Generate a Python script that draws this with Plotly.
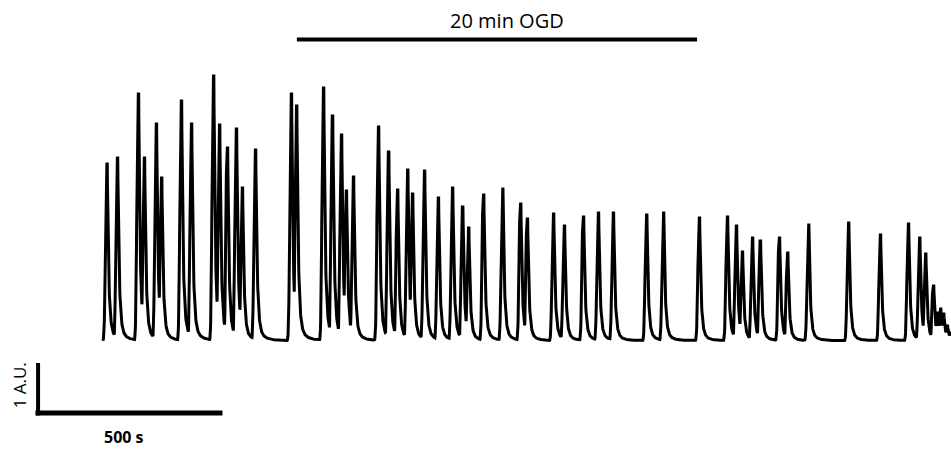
import numpy as np
import plotly.graph_objects as go

# Event times (s) and peak amplitudes (A.U., above baseline) of the calcium transients
spike_times = [
    4, 32, 88, 104, 136, 150, 203, 230, 289, 305, 326, 350, 366, 401,
    497, 511, 583, 607, 631, 644, 663, 730, 757, 781, 808, 821, 853, 890,
    928, 955, 971, 1011, 1062, 1110, 1128, 1198, 1227, 1278, 1318, 1358,
    1447, 1492, 1588, 1663, 1687, 1703, 1730, 1751, 1802, 1824, 1880,
    1987, 2072, 2147, 2177, 2193, 2214, 2225, 2233, 2241, 2251, 2260,
]
spike_peaks = [
    3.54, 3.66, 4.94, 3.66, 4.34, 3.26, 4.80, 4.34, 5.30, 4.32, 3.86, 4.24, 3.06, 3.82,
    4.94, 4.70, 5.06, 4.50, 4.12, 3.00, 3.28, 4.28, 3.78, 3.02, 3.42, 2.94, 3.40, 2.86,
    3.06, 2.68, 2.26, 2.92, 3.04, 2.74, 2.44, 2.54, 2.30, 2.48, 2.56, 2.56,
    2.52, 2.56, 2.46, 2.48, 2.30, 1.78, 2.06, 2.00, 2.06, 1.76, 2.32,
    2.36, 2.12, 2.34, 2.06, 1.74, 1.10, 0.56, 0.64, 0.54, 0.30, 0.16,
]

# Recording window and annotation positions (s / A.U.)
t_start, t_end = -6, 2262
ogd_start, ogd_end, ogd_level = 513, 1583, 6.03
ogd_label = "20 min OGD"
scale_t0, scale_len_s, scale_y0, scale_len_au = -186, 500, -1.44, 1.0
scale_x_label = "500 s"
scale_y_label = "1 A.U."

# Transient shape (s): quick rise, short plateau, multi-exponential decay
RISE_SIGMA = 4.0
HOLD = 2.0
DECAY_TAUS = (3.6, 10.0, 40.0)
DECAY_WEIGHTS = (0.86, 0.12, 0.02)


def transient(dt):
    rise = np.exp(-(np.minimum(dt, 0) / RISE_SIGMA) ** 2)
    d = np.maximum(dt - HOLD, 0)
    decay = sum(w * np.exp(-d / tau) for w, tau in zip(DECAY_WEIGHTS, DECAY_TAUS))
    return np.where(dt < 0, rise, decay)


times = np.array(spike_times, dtype=float)
peaks = np.array(spike_peaks, dtype=float)
t = np.union1d(np.arange(t_start, t_end + 0.25, 0.5), times)
signal = (peaks[:, None] * transient(t[None, :] - times[:, None])).max(axis=0)

fig = go.Figure()
fig.add_trace(go.Scatter(
    x=t, y=signal, mode="lines",
    line=dict(color="black", width=3),
    hoverinfo="skip", showlegend=False,
))

# OGD application bar
fig.add_shape(type="line", x0=ogd_start, x1=ogd_end, y0=ogd_level, y1=ogd_level,
              line=dict(color="black", width=4))
fig.add_annotation(x=(ogd_start + ogd_end) / 2 + 27, y=ogd_level + 0.38, text=ogd_label,
                   showarrow=False, font=dict(family="Open Sans", size=20, color="black"))

# Scale bars
fig.add_shape(type="line", x0=scale_t0 + 7, x1=scale_t0 + 7,
              y0=scale_y0 - 0.05, y1=scale_y0 + scale_len_au,
              line=dict(color="black", width=4))
fig.add_shape(type="line", x0=scale_t0, x1=scale_t0 + scale_len_s,
              y0=scale_y0, y1=scale_y0, line=dict(color="black", width=5))
fig.add_annotation(x=scale_t0 + scale_len_s / 2 - 13, y=scale_y0 - 0.48, text=scale_x_label,
                   showarrow=False,
                   font=dict(family="Open Sans", size=16, color="black", weight="bold"))
fig.add_annotation(x=scale_t0 - 43, y=scale_y0 + 0.56, text=scale_y_label, textangle=-90,
                   showarrow=False, font=dict(family="Open Sans", size=17, color="black"))

fig.update_layout(
    width=951, height=453,
    margin=dict(l=0, r=0, t=0, b=0),
    paper_bgcolor="white", plot_bgcolor="white",
    xaxis=dict(range=[-280.8, t_end], visible=False, fixedrange=True),
    yaxis=dict(range=[-2.24, 6.82], visible=False, fixedrange=True),
)

fig.write_html("out.html")
